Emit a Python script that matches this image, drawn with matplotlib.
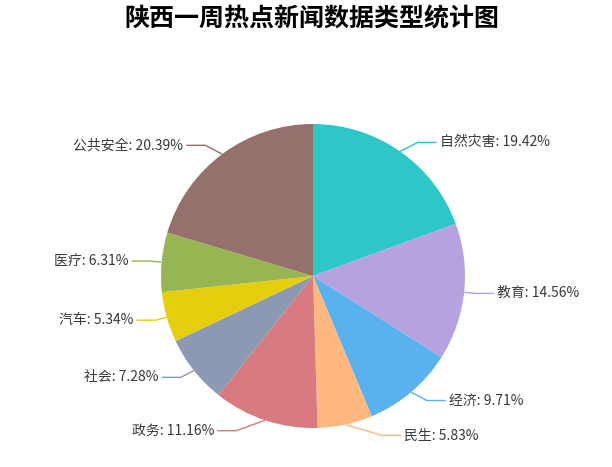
import numpy as np
import matplotlib
matplotlib.use("Agg")
import matplotlib.pyplot as plt

plt.rcParams['font.family'] = ['Noto Sans CJK SC', 'DejaVu Sans']

title = "陕西一周热点新闻数据类型统计图"
categories = ["自然灾害", "教育", "经济", "民生", "政务", "社会", "汽车", "医疗", "公共安全"]
values = [19.42, 14.56, 9.71, 5.83, 11.16, 7.28, 5.34, 6.31, 20.39]
colors = ["#2ec7c9", "#b6a2de", "#5ab1ef", "#ffb980", "#d87a80",
          "#8d98b3", "#e5cf0d", "#97b552", "#95706d"]

W, H = 612, 467
fig = plt.figure(figsize=(W / 100, H / 100), dpi=100)
ax = fig.add_axes([0, 0, 1, 1])

cx, cy_pix, R = 313, 276, 152
cy = H - cy_pix

ax.pie(values, colors=colors, startangle=90, counterclock=False,
       radius=R, center=(cx, cy), frame=True,
       wedgeprops=dict(linewidth=0, antialiased=True))

ax.set_xlim(0, W)
ax.set_ylim(0, H)
ax.set_aspect('auto')
ax.axis('off')

# label lines (echarts-like layout)
L1, L2, gap = 11, 19, 3
total = sum(values)
cum = 0.0
for cat, v, col in zip(categories, values, colors):
    mid = (cum + v / 2) / total * 2 * np.pi  # clockwise from top
    cum += v
    dx, dy = np.sin(mid), np.cos(mid)  # dy upward
    ex, ey = cx + R * dx, cy + R * dy
    px, py = cx + (R + L1) * dx, cy + (R + L1) * dy
    side = 1 if dx >= 0 else -1
    ddy = abs(py - cy)
    RR = R + L1 + L2
    lx = cx + side * np.sqrt(max(RR * RR - ddy * ddy, 0))
    p2x = lx - side * L2
    ax.plot([ex, p2x, lx], [ey, py, py], color=col, lw=1, solid_capstyle='butt')
    ax.text(lx + side * gap, py, f"{cat}: {v:.2f}%", ha='left' if side > 0 else 'right',
            va='center', fontsize=10, color='#3a3a3a')

ax.text(312, H - 19, title, ha='center', va='center', fontsize=18,
        fontweight='bold', color='#000000')

fig.savefig("out.png", dpi=100, facecolor='white')
